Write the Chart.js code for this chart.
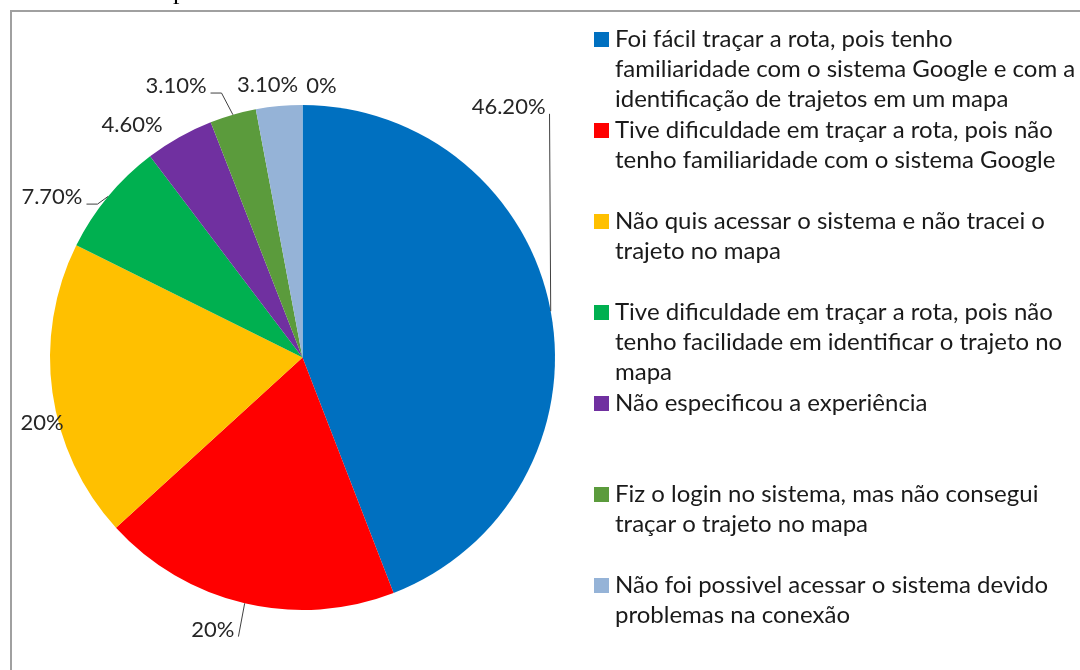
<!DOCTYPE html>
<html lang="pt">
<head>
<meta charset="UTF-8">
<title>Experiência com o traçado da rota</title>
<style>
  html, body { margin: 0; padding: 0; background: #fff; }
  #wrap { width: 1080px; height: 670px; }
</style>
<script src="https://cdn.jsdelivr.net/npm/chart.js@4.4.1/dist/chart.umd.min.js"></script>
</head>
<body>
<div id="wrap"><canvas id="pie" width="1080" height="670"></canvas></div>
<script>
// legend text, already broken into the lines used in the original
const categories = [
  ['Foi fácil traçar a rota, pois tenho', 'familiaridade com o sistema Google e com a', 'identificação de trajetos em um mapa'],
  ['Tive dificuldade em traçar a rota, pois não', 'tenho familiaridade com o sistema Google'],
  ['Não quis acessar o sistema e não tracei o', 'trajeto no mapa'],
  ['Tive dificuldade em traçar a rota, pois não', 'tenho facilidade em identificar o trajeto no', 'mapa'],
  ['Não especificou a experiência'],
  ['Fiz o login no sistema, mas não consegui', 'traçar o trajeto no mapa'],
  ['Não foi possivel acessar o sistema devido', 'problemas na conexão'],
  []
];
const values = [46.2, 20, 20, 7.7, 4.6, 3.1, 3.1, 0];
const valueLabels = ['46.20%', '20%', '20%', '7.70%', '4.60%', '3.10%', '3.10%', '0%'];
const colors = ['#0070C0', '#FF0000', '#FFC000', '#00B050', '#7030A0', '#5B9B3C', '#95B3D7', '#4BACC6'];

const frame = {
  id: 'frame',
  beforeDraw(chart) {
    const ctx = chart.ctx;
    ctx.save();
    ctx.fillStyle = '#fff';
    ctx.fillRect(0, 0, chart.width, chart.height);
    ctx.strokeStyle = '#a0a0a0';
    ctx.lineWidth = 2;
    ctx.strokeRect(11, 11, chart.width + 20, chart.height + 20);
    // tail of the caption line above the frame
    ctx.fillStyle = '#000';
    ctx.font = '26px "Liberation Serif"';
    ctx.fillText('p', 173, -1);
    ctx.restore();
  }
};

const pieLabels = {
  id: 'pieLabels',
  afterDatasetsDraw(chart, args, opts) {
    const ctx = chart.ctx;
    const arcs = chart.getDatasetMeta(0).data;
    ctx.save();
    ctx.font = opts.font;
    ctx.fillStyle = opts.color;
    ctx.strokeStyle = opts.lineColor;
    ctx.lineWidth = 1;
    ctx.textAlign = 'center';
    ctx.textBaseline = 'middle';
    arcs.forEach((arc, i) => {
      const mid = (arc.startAngle + arc.endAngle) / 2;
      const a = mid + opts.turn[i] * Math.PI / 180;
      const r = arc.outerRadius + opts.push[i];
      const x = arc.x + Math.cos(a) * r;
      const y = arc.y + Math.sin(a) * r;
      ctx.fillText(valueLabels[i], x, y);
      if (opts.leader[i]) {
        const w = ctx.measureText(valueLabels[i]).width;
        const ex = arc.x + Math.cos(mid) * arc.outerRadius;
        const ey = arc.y + Math.sin(mid) * arc.outerRadius;
        let sx = x + w / 2 + 4;
        const sy = y + 7;
        ctx.beginPath();
        ctx.moveTo(sx, sy);
        if (opts.leader[i] === 2) {
          sx += 11;
          ctx.lineTo(sx, sy);
        }
        ctx.lineTo(ex, ey);
        ctx.stroke();
      }
    });
    ctx.restore();
  }
};

const sideLegend = {
  id: 'sideLegend',
  afterDraw(chart, args, opts) {
    const ctx = chart.ctx;
    ctx.save();
    ctx.font = opts.font;
    ctx.textBaseline = 'alphabetic';
    ctx.textAlign = 'left';
    categories.forEach((lines, i) => {
      if (!lines.length) return;
      const base = opts.top + i * opts.step;
      ctx.fillStyle = colors[i];
      ctx.fillRect(opts.x, base - opts.box, opts.box, opts.box);
      ctx.fillStyle = opts.color;
      lines.forEach((t, j) => {
        ctx.fillText(t, opts.x + opts.box + 6, base + j * opts.lineHeight);
      });
    });
    ctx.restore();
  }
};

new Chart(document.getElementById('pie'), {
  type: 'pie',
  data: {
    labels: categories.map(c => c.join(' ')),
    datasets: [{
      data: values,
      backgroundColor: colors,
      borderWidth: 0,
      hoverOffset: 0
    }]
  },
  options: {
    responsive: false,
    animation: false,
    events: [],
    layout: { padding: { left: 50, right: 525, top: 105, bottom: 60 } },
    plugins: {
      legend: { display: false },
      tooltip: { enabled: false },
      pieLabels: {
        font: '22px Lato',
        color: '#262626',
        lineColor: '#404040',
        turn: [-40, 5, -6, -7, -7, -9, -2, 4],
        push: [72, 34, 16, 45, 36, 47, 22, 20],
        leader: [1, 1, 0, 2, 0, 2, 0, 0]
      },
      sideLegend: {
        font: '24px Lato',
        color: '#1a1a1a',
        x: 594,
        top: 47,
        step: 91,
        lineHeight: 30,
        box: 15
      }
    }
  },
  plugins: [frame, pieLabels, sideLegend]
});
</script>
</body>
</html>
